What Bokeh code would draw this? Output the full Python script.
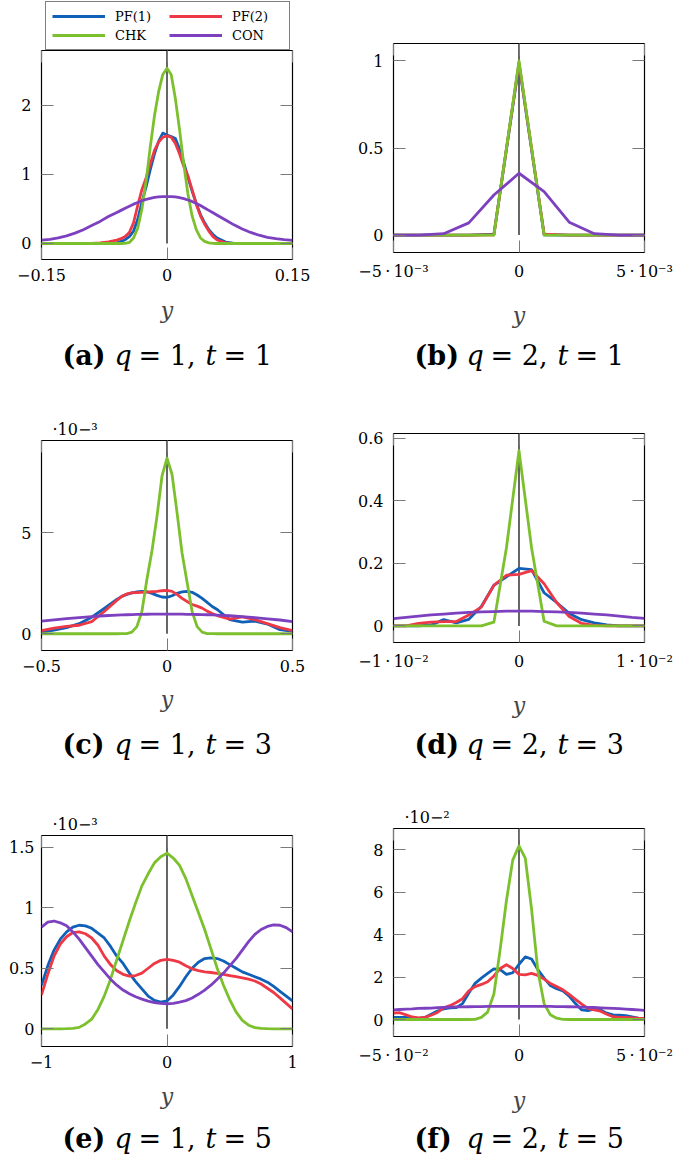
from bokeh.plotting import figure
from bokeh.layouts import row, column
from bokeh.models import Range1d, FixedTicker, LinearAxis, Label, Legend, LegendItem
from bokeh.embed import file_html
from bokeh.resources import INLINE

FONT = "DejaVu Serif"
NAMES = ["PF(1)", "PF(2)", "CHK", "CON"]
COLORS = ["#1060b8", "#ee3846", "#7cc02e", "#7d41c0"]
LW = 2.8

# ---------------- data ----------------
# (a) q=1, t=1
A_X = [-0.15, -0.14, -0.13, -0.12, -0.11, -0.10, -0.09, -0.08, -0.07, -0.06,
       -0.055, -0.05, -0.045, -0.04, -0.035, -0.03, -0.025, -0.02, -0.015, -0.01, -0.005,
       0.0, 0.005, 0.01, 0.015, 0.02, 0.025, 0.03, 0.035, 0.04, 0.045, 0.05, 0.055,
       0.06, 0.07, 0.08, 0.09, 0.10, 0.11, 0.12, 0.13, 0.14, 0.15]
A_PF1 = [0, 0, 0, 0, 0, 0, 0, 0, 0.003, 0.01,
         0.03, 0.055, 0.1, 0.18, 0.35, 0.6, 0.82, 1.07, 1.3, 1.48, 1.6,
         1.57, 1.55, 1.52, 1.37, 1.17, 0.96, 0.76, 0.58, 0.42, 0.3, 0.2, 0.13,
         0.08, 0.02, 0.003, 0, 0, 0, 0, 0, 0, 0]
A_PF2 = [0, 0, 0, 0, 0, 0, 0.002, 0.01, 0.025, 0.05,
         0.07, 0.1, 0.16, 0.3, 0.55, 0.78, 0.95, 1.15, 1.35, 1.47, 1.54,
         1.56, 1.54, 1.45, 1.3, 1.12, 0.98, 0.78, 0.57, 0.4, 0.28, 0.18, 0.1,
         0.05, 0.01, 0, 0, 0, 0, 0, 0, 0, 0]
A_CHK = [0, 0, 0, 0, 0, 0, 0, 0, 0, 0,
         0, 0.003, 0.015, 0.08, 0.22, 0.5, 0.9, 1.4, 1.85, 2.2, 2.45,
         2.54, 2.45, 2.1, 1.65, 1.15, 0.72, 0.4, 0.2, 0.08, 0.03, 0.01, 0.003,
         0, 0, 0, 0, 0, 0, 0, 0, 0, 0]
A_CON = [0.05, 0.06, 0.08, 0.11, 0.15, 0.2, 0.26, 0.32, 0.39, 0.45,
         0.48, 0.51, 0.54, 0.57, 0.595, 0.62, 0.64, 0.655, 0.667, 0.675, 0.68,
         0.68, 0.68, 0.675, 0.665, 0.65, 0.63, 0.61, 0.58, 0.55, 0.515, 0.48, 0.445,
         0.41, 0.34, 0.27, 0.21, 0.16, 0.12, 0.09, 0.07, 0.055, 0.045]

# (b) q=2, t=1
B_X = [-0.005, -0.004, -0.003, -0.002, -0.001, 0.0, 0.001, 0.002, 0.003, 0.004, 0.005]
B_PF1 = [0, 0, 0, 0, 0.005, 0.98, 0.002, 0, 0, 0, 0]
B_PF2 = [0, 0, 0, 0, 0.002, 0.99, 0.006, 0, 0, 0, 0]
B_CHK = [0, 0, 0, 0, 0, 1.0, 0, 0, 0, 0, 0]
B_CON = [0, 0, 0.008, 0.07, 0.23, 0.355, 0.25, 0.074, 0.008, 0, 0]

# (c) q=1, t=3   (values in units of 1e-3)
C_X = [-0.5, -0.45, -0.4, -0.35, -0.3, -0.25, -0.2, -0.18, -0.16, -0.14, -0.12, -0.10,
       -0.08, -0.06, -0.04, -0.02, 0.0, 0.02, 0.04, 0.06, 0.08, 0.10, 0.12, 0.14,
       0.16, 0.18, 0.2, 0.25, 0.3, 0.35, 0.4, 0.45, 0.5]
C_PF1 = [0.08, 0.18, 0.3, 0.5, 0.82, 1.25, 1.7, 1.85, 1.95, 2.02, 2.07, 2.1,
         2.08, 2.0, 1.9, 1.82, 1.8, 1.88, 2.0, 2.07, 2.1, 2.05, 1.92, 1.75,
         1.55, 1.35, 1.2, 0.7, 0.58, 0.62, 0.48, 0.2, 0.12]
C_PF2 = [0.16, 0.28, 0.36, 0.42, 0.6, 1.1, 1.65, 1.85, 1.97, 2.03, 2.04, 2.05,
         2.06, 2.08, 2.1, 2.13, 2.15, 2.1, 1.95, 1.75, 1.6, 1.45, 1.37, 1.27,
         1.12, 1.0, 0.9, 0.72, 0.83, 0.7, 0.5, 0.3, 0.16]
C_CHK = [0, 0, 0, 0, 0, 0, 0, 0.002, 0.01, 0.08, 0.35, 1.1,
         2.7, 4.1, 5.8, 7.8, 8.7, 7.9, 6.0, 4.0, 2.55, 1.1, 0.35, 0.08,
         0.01, 0.002, 0, 0, 0, 0, 0, 0, 0]
C_CON = [0.62, 0.69, 0.75, 0.8, 0.85, 0.89, 0.92, 0.93, 0.94, 0.95, 0.955, 0.96,
         0.965, 0.968, 0.97, 0.97, 0.97, 0.97, 0.97, 0.967, 0.964, 0.96, 0.954, 0.947,
         0.94, 0.93, 0.92, 0.89, 0.85, 0.8, 0.74, 0.68, 0.6]

# (d) q=2, t=3
D_X = [-0.010, -0.009, -0.008, -0.007, -0.006, -0.005, -0.004, -0.003, -0.002, -0.001, 0.0,
       0.001, 0.002, 0.003, 0.004, 0.005, 0.006, 0.007, 0.008, 0.009, 0.010]
D_PF1 = [0, 0, 0, 0.003, 0.02, 0.01, 0.021, 0.062, 0.13, 0.157, 0.184,
         0.18, 0.106, 0.075, 0.04, 0.02, 0.01, 0.003, 0, 0, 0]
D_PF2 = [0, 0, 0.008, 0.012, 0.014, 0.014, 0.035, 0.06, 0.13, 0.162, 0.165,
         0.177, 0.135, 0.075, 0.03, 0.008, 0.002, 0, 0, 0, 0]
D_CHK = [0, 0, 0, 0, 0, 0, 0, 0, 0.012, 0.25, 0.56,
         0.25, 0.015, 0, 0, 0, 0, 0, 0, 0, 0]
D_CON = [0.023, 0.027, 0.031, 0.035, 0.038, 0.041, 0.043, 0.045, 0.046, 0.047, 0.047,
         0.047, 0.046, 0.045, 0.043, 0.041, 0.038, 0.035, 0.031, 0.027, 0.024]

# (e) q=1, t=5   (values in units of 1e-3)
E_X = [-1.0, -0.95, -0.9, -0.85, -0.8, -0.75, -0.7, -0.65, -0.6, -0.55, -0.5,
       -0.45, -0.4, -0.35, -0.3, -0.25, -0.2, -0.15, -0.1, -0.05, 0.0,
       0.05, 0.1, 0.15, 0.2, 0.25, 0.3, 0.35, 0.4, 0.45, 0.5,
       0.55, 0.6, 0.65, 0.7, 0.75, 0.8, 0.85, 0.9, 0.95, 1.0]
E_PF1 = [0.36, 0.52, 0.65, 0.74, 0.8, 0.84, 0.855, 0.85, 0.83, 0.79, 0.75,
         0.68, 0.6, 0.54, 0.46, 0.39, 0.33, 0.27, 0.235, 0.22, 0.23,
         0.28, 0.35, 0.43, 0.5, 0.55, 0.58, 0.585, 0.58, 0.56, 0.53,
         0.5, 0.47, 0.45, 0.43, 0.41, 0.385, 0.35, 0.31, 0.27, 0.23]
E_PF2 = [0.28, 0.45, 0.6, 0.7, 0.76, 0.795, 0.8, 0.785, 0.75, 0.69, 0.6,
         0.53, 0.48, 0.45, 0.435, 0.44, 0.46, 0.5, 0.54, 0.565, 0.573,
         0.565, 0.55, 0.52, 0.495, 0.48, 0.47, 0.465, 0.458, 0.45, 0.44,
         0.43, 0.42, 0.41, 0.395, 0.37, 0.335, 0.3, 0.255, 0.21, 0.165]
E_CHK = [0, 0, 0, 0, 0.001, 0.004, 0.012, 0.04, 0.08, 0.16, 0.27,
         0.41, 0.57, 0.73, 0.89, 1.04, 1.18, 1.28, 1.37, 1.42, 1.45,
         1.41, 1.35, 1.24, 1.1, 0.96, 0.82, 0.66, 0.5, 0.36, 0.24,
         0.14, 0.07, 0.03, 0.01, 0.004, 0.001, 0, 0, 0, 0]
E_CON = [0.84, 0.88, 0.89, 0.875, 0.85, 0.8, 0.74, 0.67, 0.6, 0.53, 0.47,
         0.41, 0.36, 0.32, 0.29, 0.265, 0.245, 0.228, 0.217, 0.21, 0.207,
         0.21, 0.22, 0.233, 0.255, 0.285, 0.32, 0.36, 0.41, 0.46, 0.52,
         0.58, 0.65, 0.72, 0.78, 0.82, 0.845, 0.858, 0.855, 0.835, 0.8]

# (f) q=2, t=5   (values in units of 1e-2)
F_X = [-0.05, -0.0475, -0.045, -0.0425, -0.04, -0.0375, -0.035, -0.0325, -0.03, -0.0275,
       -0.025, -0.0225, -0.02, -0.0175, -0.015, -0.0125, -0.01, -0.0075, -0.005, -0.0025,
       0.0, 0.0025, 0.005, 0.0075, 0.01, 0.0125, 0.015, 0.0175, 0.02, 0.0225,
       0.025, 0.0275, 0.03, 0.0325, 0.035, 0.0375, 0.04, 0.0425, 0.045, 0.0475, 0.05]
F_PF1 = [0.1, 0.1, 0.1, 0.08, 0.05, 0.1, 0.25, 0.4, 0.5, 0.55,
         0.56, 0.75, 1.25, 1.7, 1.95, 2.17, 2.38, 2.35, 2.12, 2.2,
         2.6, 2.95, 2.85, 2.35, 1.95, 1.6, 1.45, 1.35, 1.1, 0.75,
         0.45, 0.42, 0.5, 0.45, 0.3, 0.22, 0.2, 0.18, 0.12, 0.06, 0.04]
F_PF2 = [0.3, 0.32, 0.22, 0.12, 0.08, 0.1, 0.2, 0.33, 0.55, 0.65,
         0.8, 0.98, 1.35, 1.55, 1.65, 1.78, 2.05, 2.4, 2.58, 2.4,
         2.12, 2.1, 2.17, 2.08, 1.9, 1.7, 1.55, 1.4, 1.18, 0.95,
         0.72, 0.52, 0.45, 0.39, 0.25, 0.13, 0.1, 0.1, 0.08, 0.06, 0.05]
F_CHK = [0, 0, 0, 0, 0, 0, 0, 0, 0, 0,
         0, 0, 0, 0.01, 0.1, 0.35, 1.2, 3.3, 5.6, 7.5,
         8.17, 7.6, 5.2, 2.3, 0.75, 0.22, 0.06, 0.01, 0, 0,
         0, 0, 0, 0, 0, 0, 0, 0, 0, 0, 0]
F_CON = [0.45, 0.47, 0.49, 0.5, 0.52, 0.53, 0.54, 0.56, 0.57, 0.58,
         0.59, 0.595, 0.6, 0.605, 0.61, 0.615, 0.62, 0.62, 0.62, 0.62,
         0.62, 0.62, 0.62, 0.62, 0.62, 0.615, 0.61, 0.605, 0.6, 0.59,
         0.585, 0.575, 0.565, 0.55, 0.54, 0.525, 0.51, 0.49, 0.47, 0.45, 0.43]

M = "\u2212"
TS = "\u2009"
DOT = TS + "\u00b7" + TS
A_XT, A_XL = [-0.15, 0.0, 0.15], [M + "0.15", "0", "0.15"]
A_YT, A_YL = [0, 1, 2], ["0", "1", "2"]
B_XT, B_XL = [-0.005, 0.0, 0.005], [M + "5" + DOT + "10\u207b\u00b3", "0", "5" + DOT + "10\u207b\u00b3"]
B_YT, B_YL = [0, 0.5, 1], ["0", "0.5", "1"]
C_XT, C_XL = [-0.5, 0.0, 0.5], [M + "0.5", "0", "0.5"]
C_YT, C_YL = [0, 5], ["0", "5"]
D_XT, D_XL = [-0.01, 0.0, 0.01], [M + "1" + DOT + "10\u207b\u00b2", "0", "1" + DOT + "10\u207b\u00b2"]
D_YT, D_YL = [0, 0.2, 0.4, 0.6], ["0", "0.2", "0.4", "0.6"]
E_XT, E_XL = [-1.0, 0.0, 1.0], [M + "1", "0", "1"]
E_YT, E_YL = [0, 0.5, 1, 1.5], ["0", "0.5", "1", "1.5"]
F_XT, F_XL = [-0.05, 0.0, 0.05], [M + "5" + DOT + "10\u207b\u00b2", "0", "5" + DOT + "10\u207b\u00b2"]
F_YT, F_YL = [0, 2, 4, 6, 8], ["0", "2", "4", "6", "8"]

# column geometry (page px): widths and left/right borders of the plot frames
W1, W2 = 345, 339
BL1, BR1 = 41, 53
BL2, BR2 = 48, 40


def style_axis(ax, label_size="16px"):
    ax.axis_line_color = None
    ax.major_tick_in = 12
    ax.major_tick_out = 0
    ax.major_tick_line_color = "#7a7a7a"
    ax.major_tick_line_width = 1
    ax.minor_tick_line_color = None
    ax.major_label_text_font = FONT
    ax.major_label_text_font_size = label_size
    ax.major_label_text_color = "black"


def make_panel(xs, series, xr, yr, xt, xl, yt, yl, W, H, bl, br, bt, bb,
               xlab_gap, mult=None, ylab_sd=10):
    p = figure(width=W, height=H, x_range=Range1d(*xr), y_range=Range1d(*yr),
               output_backend="svg", toolbar_location=None,
               x_axis_type=None, y_axis_type=None,
               min_border_left=bl, min_border_right=br,
               min_border_top=bt, min_border_bottom=bb)
    p.outline_line_color = "black"
    p.outline_line_width = 1.2
    p.background_fill_color = "white"
    p.border_fill_color = "white"

    xa = LinearAxis(ticker=FixedTicker(ticks=xt), major_label_overrides=dict(zip(xt, xl)))
    style_axis(xa)
    xa.major_label_standoff = 9
    xa.axis_label = "y"
    xa.axis_label_text_font = FONT
    xa.axis_label_text_font_style = "italic"
    xa.axis_label_text_font_size = "22px"
    xa.axis_label_standoff = xlab_gap
    p.add_layout(xa, "below")

    ya = LinearAxis(ticker=FixedTicker(ticks=yt), major_label_overrides=dict(zip(yt, yl)))
    style_axis(ya)
    ya.major_label_standoff = ylab_sd
    p.add_layout(ya, "left")

    # tick marks only on the top and right edges
    xa2 = LinearAxis(ticker=FixedTicker(ticks=xt), major_label_overrides={t: "" for t in xt})
    style_axis(xa2, "0px")
    xa2.major_label_standoff = 0
    p.add_layout(xa2, "above")
    ya2 = LinearAxis(ticker=FixedTicker(ticks=yt), major_label_overrides={t: "" for t in yt})
    style_axis(ya2, "0px")
    ya2.major_label_standoff = 0
    p.add_layout(ya2, "right")

    if mult is not None:
        p.title.text = "\u00b710" + mult
        p.title.align = "left"
        p.title.offset = 11
        p.title.standoff = 4
        p.title.text_font = FONT
        p.title.text_font_size = "16px"
        p.title.text_font_style = "normal"
        p.title.text_color = "black"

    # vertical black line at y=0 from the value 0 up to the top of the range
    p.segment(x0=[0], y0=[0], x1=[0], y1=[yr[1]], line_color="black", line_width=1.2)

    rends = []
    for vals, c in zip(series, COLORS):
        assert len(vals) == len(xs)
        r = p.line(xs, vals, line_color=c, line_width=LW, line_join="round")
        rends.append(r)
    return p, rends


def caption_fig(W, h, bl, br, cy, letter, qv, tv, dx=0):
    fw = W - bl - br
    c = figure(width=W, height=h, x_range=Range1d(0, fw), y_range=Range1d(0, h),
               output_backend="svg", toolbar_location=None,
               x_axis_type=None, y_axis_type=None,
               min_border_left=bl, min_border_right=br, min_border_top=0, min_border_bottom=0)
    c.outline_line_color = None
    c.border_fill_color = "white"
    pieces = [("(%s)" % letter, "bold", 44, 8), ("q", "italic", 17, 7),
              ("= %s," % qv, "normal", 57, 10), ("t", "italic", 11, 7),
              ("= %s" % tv, "normal", 48, 0)]
    total = sum(w + g for _, _, w, g in pieces)
    x = fw / 2 - total / 2 + dx
    for txt, st, w, g in pieces:
        c.add_layout(Label(x=x, y=h - cy, text=txt,
                           text_font=FONT, text_font_size="27px", text_font_style=st,
                           text_baseline="middle", text_align="left", text_color="black"))
        x += w + g
    return c


# ---- column 1 ----
lf = figure(width=W1, height=50, x_range=Range1d(0, 1), y_range=Range1d(0, 1),
            output_backend="svg", toolbar_location=None, x_axis_type=None, y_axis_type=None,
            min_border_left=BL1, min_border_right=BR1, min_border_top=0, min_border_bottom=0)
lf.outline_line_color = None
lf.border_fill_color = "white"
# legend-only line renderers (a single point draws no visible line)
leg_r = [lf.line(x=[0.5], y=[0.5], line_color=c, line_width=LW) for c in COLORS]
legend = Legend(items=[LegendItem(label=n, renderers=[r]) for n, r in zip(NAMES, leg_r)],
                location=(4, 0), orientation="horizontal", ncols=2)
legend.border_line_color = "black"
legend.border_line_width = 1
legend.background_fill_color = "white"
legend.background_fill_alpha = 1.0
legend.label_text_font = FONT
legend.label_text_font_size = "13px"
legend.label_text_color = "black"
legend.glyph_width = 53
legend.glyph_height = 16
legend.label_height = 16
legend.label_width = 51
legend.label_standoff = 10
legend.spacing = 3
legend.padding = 6
legend.margin = 0
lf.add_layout(legend)

pa, _ = make_panel(A_X, [A_PF1, A_PF2, A_CHK, A_CON], (-0.15, 0.15), (-0.232, 2.797),
                   A_XT, A_XL, A_YT, A_YL, W1, 280, BL1, BR1, 0, 71, 14)
ca = caption_fig(W1, 50, BL1, BR1, 25, "a", 1, 1)
pc, _ = make_panel(C_X, [C_PF1, C_PF2, C_CHK, C_CON], (-0.5, 0.5), (-0.83, 9.57),
                   C_XT, C_XL, C_YT, C_YL, W1, 340, BL1, BR1, 60, 70, 12, mult=M + "\u00b3")
cc = caption_fig(W1, 50, BL1, BR1, 24, "c", 1, 3)
pe, _ = make_panel(E_X, [E_PF1, E_PF2, E_CHK, E_CON], (-1.0, 1.0), (-0.146, 1.596),
                   E_XT, E_XL, E_YT, E_YL, W1, 345, BL1, BR1, 65, 69, 13,
                   mult=M + "\u00b3", ylab_sd=7)
ce = caption_fig(W1, 40, BL1, BR1, 23, "e", 1, 5)

# ---- column 2 ----
pb, _ = make_panel(B_X, [B_PF1, B_PF2, B_CHK, B_CON], (-0.005, 0.005), (-0.1, 1.1),
                   B_XT, B_XL, B_YT, B_YL, W2, 330, BL2, BR2, 43, 76, 19)
cb = caption_fig(W2, 50, BL2, BR2, 25, "b", 2, 1)
pd, _ = make_panel(D_X, [D_PF1, D_PF2, D_CHK, D_CON], (-0.01, 0.01), (-0.053, 0.615),
                   D_XT, D_XL, D_YT, D_YL, W2, 340, BL2, BR2, 53, 77, 19)
cd = caption_fig(W2, 50, BL2, BR2, 24, "d", 2, 3)
pf, _ = make_panel(F_X, [F_PF1, F_PF2, F_CHK, F_CON], (-0.05, 0.05), (-0.8, 8.99),
                   F_XT, F_XL, F_YT, F_YL, W2, 345, BL2, BR2, 58, 76, 20, mult=M + "\u00b2")
cf = caption_fig(W2, 40, BL2, BR2, 23, "f", 2, 5)

layout = row(column(lf, pa, ca, pc, cc, pe, ce), column(pb, cb, pd, cd, pf, cf))
open("out.html", "w").write(file_html(layout, INLINE))
